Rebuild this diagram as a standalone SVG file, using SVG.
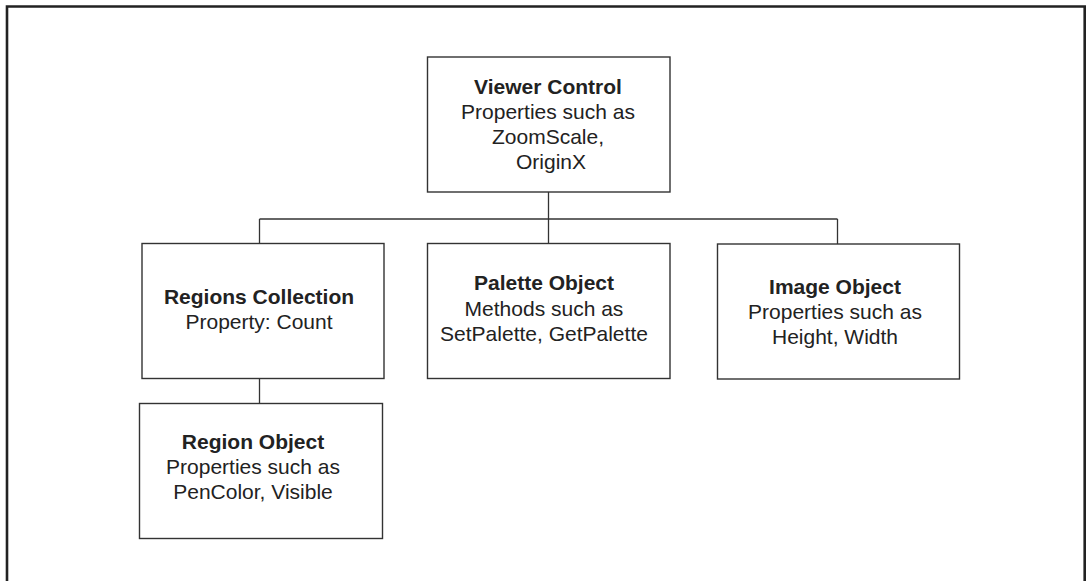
<svg xmlns="http://www.w3.org/2000/svg" width="1087" height="581" viewBox="0 0 1087 581">
  <style>
    .frame { fill: none; stroke: #222; stroke-width: 2.6; }
    .box { fill: #fff; stroke: #333; stroke-width: 1.4; }
    .wire { fill: none; stroke: #333; stroke-width: 1.3; }
    text { font-family: "Liberation Sans", Arial, sans-serif; font-size: 21px; fill: #222; text-anchor: middle; }
    .title { font-weight: bold; }
  </style>
  <rect width="1087" height="581" fill="#fff"/>
  <!-- page border, open at the bottom -->
  <path class="frame" d="M7,581 V6.5 H1084.7 V581"/>

  <g id="connectors">
    <line class="wire" x1="548.5" y1="192" x2="548.5" y2="243.5"/>
    <line class="wire" x1="259.5" y1="219" x2="837.5" y2="219"/>
    <line class="wire" x1="259.5" y1="219" x2="259.5" y2="243.5"/>
    <line class="wire" x1="837.5" y1="219" x2="837.5" y2="244"/>
    <line class="wire" x1="259.5" y1="378.5" x2="259.5" y2="403.5"/>
  </g>

  <g id="viewer-control">
    <rect class="box" x="427.5" y="57" width="242.5" height="135"/>
    <text class="title" x="548" y="94">Viewer Control</text>
    <text x="548" y="119">Properties such as</text>
    <text x="548" y="144">ZoomScale,</text>
    <text x="551" y="169">OriginX</text>
  </g>

  <g id="regions-collection">
    <rect class="box" x="142" y="243.5" width="242" height="135"/>
    <text class="title" x="259" y="304">Regions Collection</text>
    <text x="259" y="329">Property: Count</text>
  </g>

  <g id="palette-object">
    <rect class="box" x="427.5" y="243.5" width="242.5" height="135"/>
    <text class="title" x="544" y="290">Palette Object</text>
    <text x="544" y="316">Methods such as</text>
    <text x="544" y="341">SetPalette, GetPalette</text>
  </g>

  <g id="image-object">
    <rect class="box" x="717.5" y="244" width="242" height="135"/>
    <text class="title" x="835" y="294">Image Object</text>
    <text x="835" y="319">Properties such as</text>
    <text x="835" y="344">Height, Width</text>
  </g>

  <g id="region-object">
    <rect class="box" x="139.5" y="403.5" width="243" height="135"/>
    <text class="title" x="253" y="449">Region Object</text>
    <text x="253" y="474">Properties such as</text>
    <text x="253" y="499">PenColor, Visible</text>
  </g>
</svg>
